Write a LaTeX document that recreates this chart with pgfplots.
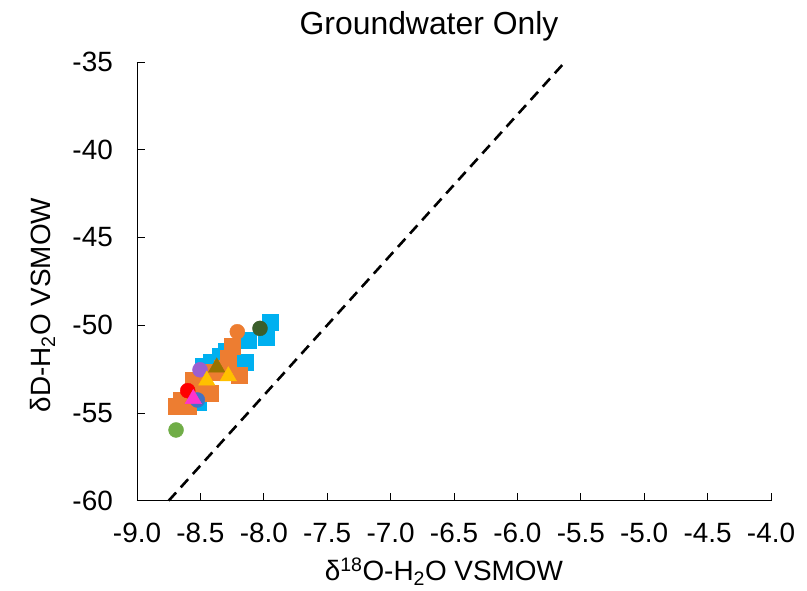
\documentclass[border=0pt]{standalone}
\usepackage{fontspec}
\setmainfont{Liberation Sans}
\usepackage{pgfplots}
\pgfplotsset{compat=1.18}

\definecolor{cblue}{HTML}{00B0F0}
\definecolor{corange}{HTML}{ED7D31}
\definecolor{cdkgreen}{HTML}{3B5E2B}
\definecolor{cltgreen}{HTML}{70AD47}
\definecolor{cpurple}{HTML}{9B5FD0}
\definecolor{cmagenta}{HTML}{FF33CC}
\definecolor{colive}{HTML}{997300}
\definecolor{cyellow}{HTML}{FFC000}
\definecolor{cmblue}{HTML}{4472C4}

\begin{document}
\begin{tikzpicture}
\useasboundingbox (-137bp,-90.3bp) rectangle (670bp,500.7bp);
\begin{axis}[
    scale only axis,
    width=634bp, height=438.7bp,
    xmin=-9, xmax=-4, ymin=-60, ymax=-35,
    xtick={-9,-8.5,...,-4}, ytick={-60,-55,...,-35},
    axis x line=bottom, axis y line=left,
    axis line style={-, line width=0.9bp},
    tick align=inside, major tick length=8bp,
    tick style={black, line width=0.9bp},
    clip=false,
    font=\fontsize{28}{32}\selectfont,
    /pgf/number format/assume math mode=true,
    xticklabel style={anchor=north, inner sep=0pt, yshift=-22bp,
        /pgf/number format/.cd, fixed, fixed zerofill, precision=1},
    yticklabel style={anchor=east, inner sep=0pt, xshift=-24bp},
    title={Groundwater Only},
    title style={font=\fontsize{32}{36}\selectfont, at={(axis description cs:0.4606,1.0685)}, anchor=center, inner sep=0pt},
    xlabel={δ\textsuperscript{18}O-H\textsubscript{2}O VSMOW},
    xlabel style={at={(axis description cs:0.484,-0.1824)}, anchor=base, inner sep=0pt},
    ylabel={δD-H\textsubscript{2}O VSMOW},
    ylabel style={at={(axis description cs:-0.1372,0.446)}, anchor=base, rotate=0, inner sep=0pt},
]
% GMWL
\addplot[black, line width=2.6bp, dash pattern=on 11bp off 7bp] coordinates {(-8.75,-60) (-5.625,-35)};

% blue squares
\addplot[only marks, mark=square*, mark size=8bp, color=cblue] coordinates {
(-7.951,-49.80) (-7.983,-50.69) (-8.122,-50.88) (-8.148,-52.08) (-8.345,-51.79)
(-8.411,-52.08) (-8.621,-54.26) (-8.517,-54.36) (-8.477,-52.36) (-8.30,-51.5)};
% orange squares
\addplot[only marks, mark=square*, mark size=8bp, color=corange] coordinates {
(-8.253,-51.22) (-8.280,-51.88) (-8.193,-52.83) (-8.398,-52.65) (-8.556,-53.12)
(-8.424,-53.88) (-8.687,-54.64) (-8.595,-54.64) (-8.503,-53.59) (-8.332,-52.45)
(-8.648,-54.26) (-8.477,-52.93)};
% circles
\addplot[only marks, mark=*, mark size=7.5bp, color=cmblue] coordinates {(-8.524,-54.26)};
\addplot[only marks, mark=*, mark size=7.5bp, color=corange] coordinates {(-8.209,-50.37)};
\addplot[only marks, mark=*, mark size=7.5bp, color=cdkgreen] coordinates {(-8.030,-50.18)};
\addplot[only marks, mark=*, mark size=7.5bp, color=cltgreen] coordinates {(-8.692,-55.97)};
\addplot[only marks, mark=*, mark size=7.5bp, color=cpurple] coordinates {(-8.503,-52.54)};
\addplot[only marks, mark=*, mark size=7.5bp, color=red] coordinates {(-8.600,-53.73)};
% triangles
\addplot[only marks, mark=triangle*, mark size=9.5bp, color=colive] coordinates {(-8.371,-52.40)};
\addplot[only marks, mark=triangle*, mark size=9.5bp, color=cyellow] coordinates {(-8.450,-53.15) (-8.280,-52.90)};
\addplot[only marks, mark=triangle*, mark size=9.5bp, color=cmagenta] coordinates {(-8.556,-54.20)};
\end{axis}
\end{tikzpicture}
\end{document}
